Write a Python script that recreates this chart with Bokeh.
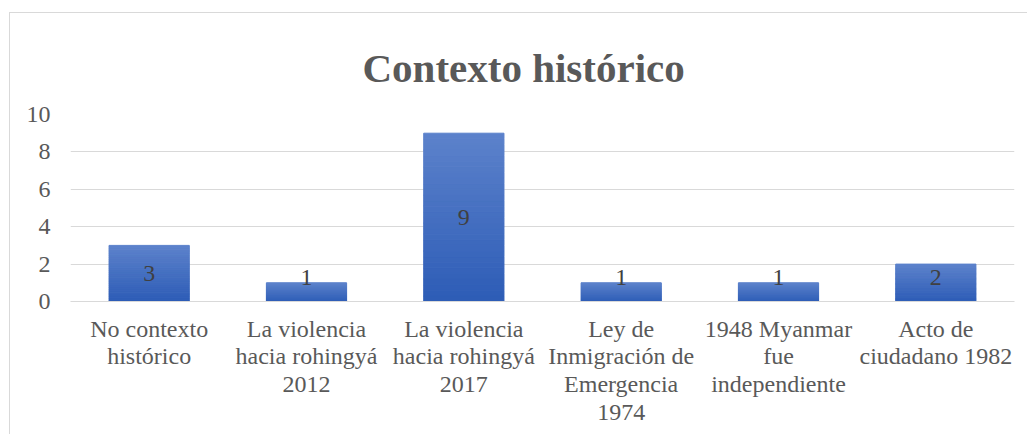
from bokeh.plotting import figure
from bokeh.models import ColumnDataSource, Range1d, FixedTicker, LabelSet
from bokeh.embed import file_html
from bokeh.resources import INLINE

# ---- data ----
categories = [
    "No contexto\nhistórico",
    "La violencia\nhacia rohingyá\n2012",
    "La violencia\nhacia rohingyá\n2017",
    "Ley de\nInmigración de\nEmergencia\n1974",
    "1948 Myanmar\nfue\nindependiente",
    "Acto de\nciudadano 1982",
]
counts = [3, 1, 9, 1, 1, 2]
y_ticks = [0, 2, 4, 6, 8, 10]
title_text = "Contexto histórico"

# ---- style ----
FONT = "Liberation Serif"
TXT = "#595959"
GRID = "#d9d9d9"
BOTTOM_RGB = (45, 92, 182)
TOP_RGB = (92, 130, 203)
N_STEPS = 30


def mix(a, b, t):
    r = [round(a[i] + (b[i] - a[i]) * t) for i in range(3)]
    return "#%02x%02x%02x" % tuple(r)


# gradient slices, built from the data values
gx, gb, gt, gc = [], [], [], []
for cat, v in zip(categories, counts):
    for k in range(N_STEPS):
        gx.append(cat)
        gb.append(v * k / N_STEPS)
        gt.append(v * (k + 1) / N_STEPS)
        gc.append(mix(BOTTOM_RGB, TOP_RGB, (k + 0.5) / N_STEPS))

bars = ColumnDataSource(dict(x=gx, b=gb, t=gt, c=gc))
lab = ColumnDataSource(dict(
    x=categories,
    y=[max(v / 2, 1.31) for v in counts],
    txt=[str(v) for v in counts],
))

p = figure(
    x_range=categories,
    y_range=Range1d(0, 10),
    width=1018, height=422,
    output_backend="svg", toolbar_location=None,
    min_border_left=60, min_border_right=14,
    min_border_top=101, min_border_bottom=134,
)
p.styles = {
    "border-left": "1px solid #d9d9d9",
    "border-top": "1px solid #d9d9d9",
    "margin-top": "12px",
    "margin-left": "9px",
}

p.vbar(x="x", bottom="b", top="t", width=0.51, fill_color="c",
       line_color="c", line_width=1, source=bars)

p.add_layout(LabelSet(x="x", y="y", text="txt", source=lab,
                      text_align="center", text_baseline="middle",
                      text_font=FONT, text_font_size="24px",
                      text_color="#404040"))

p.title.text = title_text
p.title.align = "left"
p.title.offset = 292
p.title.text_font = FONT
p.title.text_font_size = "41px"
p.title.text_font_style = "bold"
p.title.text_color = TXT
p.title.standoff = 47

p.outline_line_color = None
p.background_fill_color = "white"
p.border_fill_color = "white"

p.xgrid.grid_line_color = None
p.ygrid.grid_line_color = GRID
p.ygrid.grid_line_width = 1
p.ygrid.ticker = FixedTicker(ticks=y_ticks)

p.yaxis.ticker = FixedTicker(ticks=y_ticks)
p.yaxis.axis_line_color = None
p.yaxis.major_tick_line_color = None
p.yaxis.minor_tick_line_color = None
p.yaxis.major_label_text_font = FONT
p.yaxis.major_label_text_font_size = "24px"
p.yaxis.major_label_text_color = TXT
p.yaxis.major_label_standoff = 14

p.xaxis.axis_line_color = GRID
p.xaxis.axis_line_width = 1
p.xaxis.major_tick_line_color = None
p.xaxis.minor_tick_line_color = None
p.xaxis.major_label_text_font = FONT
p.xaxis.major_label_text_font_size = "24px"
p.xaxis.major_label_text_color = TXT
p.xaxis.major_label_text_line_height = 1.07
p.xaxis.major_label_standoff = 8
p.x_range.range_padding = 0

open("out.html", "w").write(file_html(p, INLINE))
